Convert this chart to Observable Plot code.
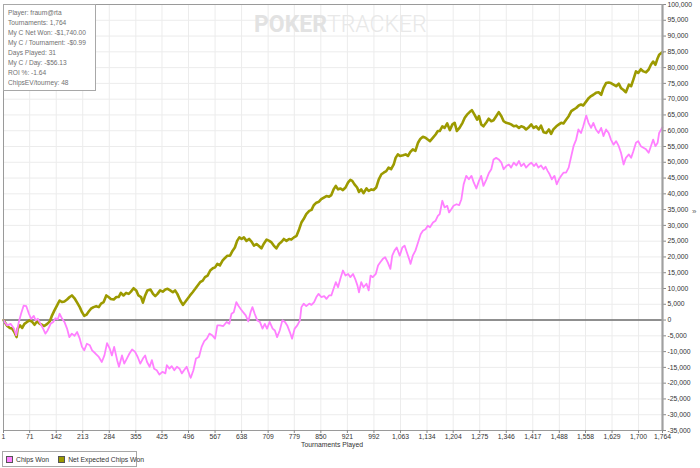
<!DOCTYPE html>
<html>
<head>
<meta charset="utf-8">
<script src="https://cdn.jsdelivr.net/npm/d3@7"></script>
<script src="https://cdn.jsdelivr.net/npm/@observablehq/plot@0.6"></script>
<style>
  html, body { margin: 0; padding: 0; background: #fff; }
  #wrap { position: relative; width: 700px; height: 468px; overflow: hidden; font-family: "Liberation Sans", Arial, sans-serif; }
  #wrap svg { position: absolute; left: 0; top: 0; }
  .info { position: absolute; left: 3px; top: 4px; width: 93px; height: 87px; border: 1px solid #a8a8a8; background: #fff; box-sizing: border-box; padding: 3px 0 0 4px; font-size: 6.6px; color: #707070; line-height: 10px; white-space: nowrap; overflow: hidden; }
  .wm { position: absolute; left: 254px; top: 12px; font-family: Roboto, "Liberation Sans", sans-serif; font-size: 23px; line-height: 26px; white-space: nowrap; }
  .wm .a { font-weight: 700; color: #e2e2e2; }
  .wm .b { font-weight: 300; color: #e8e8e8; }
  .xt { position: absolute; left: 0; width: 664px; top: 441px; text-align: center; font-size: 6.8px; color: #333; white-space: nowrap; }
  .legend { position: absolute; left: 2px; top: 451px; width: 135px; height: 16px; border: 1px solid #a8a8a8; box-sizing: border-box; font-size: 6.8px; color: #333; display: flex; align-items: center; padding-left: 3px; white-space: nowrap; }
  .sw { display: inline-block; width: 5px; height: 5px; border: 1px solid #555; margin-right: 3px; }
  .item { display: inline-flex; align-items: center; margin-right: 9px; }
  .chev { position: absolute; left: 692px; top: 207px; font-size: 8px; color: #666; }
</style>
</head>
<body>
<div id="wrap"></div>
<script>
const seriesNames = ["Chips Won", "Net Expected Chips Won"];
const seriesColors = ["#ff80ff", "#9c9a00"];

const xTicks = [1,71,142,213,284,355,425,496,567,638,709,779,850,921,992,1063,1134,1204,1275,1346,1417,1488,1558,1629,1700,1764];
const yTicks = [-35000,-30000,-25000,-20000,-15000,-10000,-5000,0,5000,10000,15000,20000,25000,30000,35000,40000,45000,50000,55000,60000,65000,70000,75000,80000,85000,90000,95000,100000];

const infoLines = [
  "Player: fraum@rta",
  "Tournaments: 1,764",
  "My C Net Won: -$1,740.00",
  "My C / Tournament: -$0.99",
  "Days Played: 31",
  "My C / Day: -$56.13",
  "ROI %: -1.64",
  "ChipsEV/tourney: 48"
];

// Chips Won (tournament number, chips)
const chipsT = [
  1,4,11,20,29,35,42,48,55,62,69,75,82,87,93,100,107,113,119,127,134,140,146,151,158,164,171,177,184,191,198,205,211,217,224,232,238,247,256,264,271,278,285,291,297,305,310,318,324,331,338,345,353,360,367,374,380,385,392,398,404,411,418,426,434,438,445,451,458,465,472,478,484,491,499,502,509,516,524,531,538,545,552,559,567,573,
  580,589,598,605,611,617,624,629,635,642,649,656,662,667,673,680,687,694,700,706,713,721,727,733,740,747,754,760,767,773,780,787,794,798,804,811,819,825,832,838,844,851,859,865,872,878,884,890,896,902,909,916,923,929,936,942,948,952,958,964,972,978,983,989,997,1003,1009,1016,1022,1029,1036,1041,1047,1053,1061,1068,1074,1080,1086,1090,1096,1103,1110,1117,1123,1130,1136,1142,1150,1157,1163,
  1168,1175,1181,1188,1193,1199,1205,1213,1220,1226,1232,1239,1246,1253,1259,1266,1273,1279,1285,1293,1300,1306,1312,1319,1326,1333,1339,1346,1353,1359,1366,1373,1380,1386,1393,1399,1407,1413,1420,1426,1432,1439,1446,1451,1457,1462,1468,1475,1481,1487,1493,1499,1506,1513,1520,1526,1533,1539,1546,1552,1560,1566,1573,1579,1586,1593,1600,1606,1613,1620,1626,1633,1640,1647,1653,1660,1666,1674,1680,1686,1693,1699,1706,1713,1720,1727,1733,1739,1745,1751,1755,1764
];
const chipsWon = [
  0,-600,-1700,-1200,-2700,-4800,-600,2000,4600,4400,2000,400,1300,-100,400,-1200,-2700,-4300,-3300,-1200,-600,600,200,2000,400,-600,-2700,-5400,-4300,-5000,-3800,-5900,-8500,-9600,-7500,-8000,-9600,-10600,-11700,-13300,-11200,-7300,-9000,-11200,-8500,-12700,-14800,-11200,-13800,-12200,-10600,-9300,-10100,-11700,-13800,-12200,-11200,-13300,-14800,-12700,-15400,-15900,-17300,-16400,-16900,-14300,-15400,-14600,-15900,-14800,-15400,-16900,-15900,-14800,-17500,-18300,-15900,-12200,-11700,-8500,-6700,-5900,-4300,-4800,-5900,-1700,
  -1700,-1900,-600,-1200,2000,2500,5700,4600,3600,2500,1500,-400,2500,4100,2000,-100,-600,-2700,-1200,-2700,-600,-2700,-3300,-5400,-3300,-100,-600,-1700,-3800,-5900,-2700,-1700,-100,4100,5200,4400,5200,4800,5700,7300,8300,7300,7600,6700,7800,7800,9900,12000,10400,13000,15700,14100,14600,13600,14600,13000,10900,8800,12000,10400,11500,9400,14100,13600,14600,17300,18300,19400,19900,18300,16200,20400,22000,23000,20400,23000,23600,21500,19400,17800,20400,22000,24600,27200,28300,28800,29900,29400,30900,31500,33000,
  33600,37800,35700,36200,34100,35100,36200,36700,36400,38300,43000,45700,44600,45700,43600,41700,44100,45700,42500,44600,46700,47800,50900,51400,50900,49900,47800,48800,49300,48300,49900,49000,50400,48800,49600,48300,49300,49900,48800,49600,48300,49000,47800,48600,47200,46200,44600,45700,43000,44600,45700,46700,46700,48300,52000,55100,57200,60400,59300,61400,64800,62500,60900,62500,60400,59300,60900,58300,60400,59300,57200,55600,56700,55100,53000,49300,51400,52500,51400,53500,56200,56700,55100,54600,54100,53000,55100,57200,55100,56200,59300,61100
];

// Net Expected Chips Won (tournament number, chips)
const evT = [
  1,4,11,18,24,30,36,39,45,51,57,64,71,78,84,91,98,104,110,118,125,131,137,144,151,158,164,171,178,184,191,198,205,211,217,223,229,235,242,249,256,262,269,276,282,288,296,303,309,315,322,329,336,342,349,356,362,369,374,380,386,394,401,407,413,420,427,434,440,447,454,460,466,474,481,487,493,500,507,514,520,527,534,540,547,554,561,567,573,
  580,587,593,600,607,614,620,626,632,638,644,651,658,665,671,678,685,691,697,705,712,718,724,731,738,745,751,758,765,771,778,785,792,798,804,811,819,825,831,838,845,851,858,865,872,878,884,890,896,902,909,916,923,929,934,940,947,952,958,964,972,978,985,991,998,1005,1012,1018,1025,1031,1038,1045,1050,1056,1062,1070,1077,1083,1089,1096,1103,1110,1116,1123,1130,1136,1142,1150,1157,1163,
  1168,1175,1181,1188,1195,1202,1208,1214,1221,1229,1235,1241,1248,1254,1261,1268,1273,1279,1285,1293,1299,1306,1312,1319,1326,1333,1339,1346,1353,1359,1366,1373,1380,1386,1393,1399,1407,1413,1419,1426,1433,1439,1446,1453,1460,1466,1472,1480,1487,1493,1499,1506,1513,1520,1526,1533,1540,1546,1552,1560,1567,1573,1579,1586,1593,1600,1606,1613,1620,1626,1633,1640,1647,1653,1659,1666,1674,1680,1686,1693,1699,1706,1713,1720,1727,1733,1739,1745,1751,1755,1764
];
const evChips = [
  0,-600,-1900,-2500,-2700,-3800,-5400,-2700,-1700,-2500,-1200,-600,-100,-600,-1500,-400,-1200,-1500,-1900,-1200,-400,1500,3000,4600,6200,5700,5900,6500,7300,7800,6900,5500,4100,2500,1300,1700,2700,3600,4100,4400,4100,5200,5700,7800,7300,6700,6500,7300,7300,8600,7800,8600,8300,9000,10100,9400,7800,7300,5500,7800,9400,9700,8300,7600,8300,9400,9000,9700,9900,9400,8800,9400,8300,6200,4800,5700,6700,7800,8800,9900,10900,12000,12500,13600,14100,15700,16400,16700,17800,
  17300,18800,19600,20400,20400,22000,23000,25100,26200,25700,26200,25100,25700,24800,23600,24100,23400,22700,24100,25500,25100,24600,23600,22700,24100,24800,25700,25100,25700,25500,26200,26700,28800,30900,32000,33600,34600,34900,36400,37200,37500,38300,38800,39300,39100,39600,41400,42500,41400,41700,41200,42000,43600,44400,44100,43000,42000,40600,41400,40200,41700,40900,41400,41200,42000,44600,46200,46700,47200,48300,47800,49300,51400,52500,52000,52200,52500,52000,53200,54100,53600,56200,57400,58100,57800,57200,56700,57800,58800,59900,
  59900,61400,60900,62300,60200,62000,62500,59900,60900,62500,64100,65100,65900,66500,65100,63500,64600,62000,61400,62700,63800,63000,63300,64600,65900,64600,63000,62500,62300,62000,61400,61600,60900,61400,61100,60400,61200,62000,60900,61400,60400,61600,59500,59300,60400,59000,60400,61400,62000,62500,62300,63500,64600,66200,66700,67200,68000,68300,68000,69300,70400,71000,71400,72000,72200,71400,73500,75100,75300,75100,74600,74100,74900,73500,73000,72200,74600,74100,76200,78800,78300,79500,78800,78500,79400,80900,81900,80900,83000,84100,84900
];

const chipsData = chipsT.map((t, i) => ({t, v: chipsWon[i]}));
const evData = evT.map((t, i) => ({t, v: evChips[i]}));

const fmt = v => (v < 0 ? "-" : "") + d3.format(",")(Math.abs(v));
const font = "'Liberation Sans', Arial, sans-serif";

const chart = Plot.plot({
  width: 700,
  height: 446,
  marginLeft: 3,
  marginRight: 38,
  marginTop: 4,
  marginBottom: 16,
  style: {fontFamily: font, fontSize: "6.8px", color: "#333", background: "transparent"},
  x: {domain: [1, 1764]},
  y: {domain: [-35000, 100000]},
  marks: [
    Plot.gridX(xTicks, {stroke: "#ececec", strokeOpacity: 1}),
    Plot.gridY(yTicks, {stroke: "#ececec", strokeOpacity: 1}),
    Plot.ruleY([0], {stroke: "#6e6e6e", strokeWidth: 1.4}),
    Plot.line(evData, {x: "t", y: "v", stroke: seriesColors[1], strokeWidth: 2.6, strokeLinejoin: "round"}),
    Plot.line(chipsData, {x: "t", y: "v", stroke: seriesColors[0], strokeWidth: 1.8, strokeLinejoin: "round"}),
    Plot.frame({stroke: "#9a9a9a"}),
    Plot.axisY(yTicks, {anchor: "right", tickSize: 3, tickPadding: 2, tickFormat: fmt, label: null, stroke: "#888"}),
    Plot.axisX(xTicks, {anchor: "bottom", tickSize: 3, tickPadding: 1, tickFormat: d3.format(","), label: null, stroke: "#888"}),
    Plot.ruleX([1764], {stroke: "#a0a0a0", strokeWidth: 2.2})
  ]
});

const wrap = document.getElementById("wrap");
wrap.appendChild(chart);

const wm = document.createElement("div");
wm.className = "wm";
wm.innerHTML = '<span class="a">POKER</span><span class="b">TRACKER</span>';
wrap.appendChild(wm);

const info = document.createElement("div");
info.className = "info";
info.innerHTML = infoLines.map(s => `<div>${s}</div>`).join("");
wrap.appendChild(info);

const xt = document.createElement("div");
xt.className = "xt";
xt.textContent = "Tournaments Played";
wrap.appendChild(xt);

const legend = document.createElement("div");
legend.className = "legend";
legend.innerHTML = seriesNames.map((n, i) => `<span class="item"><span class="sw" style="background:${seriesColors[i]}"></span>${n}</span>`).join("");
wrap.appendChild(legend);

const chev = document.createElement("div");
chev.className = "chev";
chev.textContent = "»";
wrap.appendChild(chev);
</script>
</body>
</html>
